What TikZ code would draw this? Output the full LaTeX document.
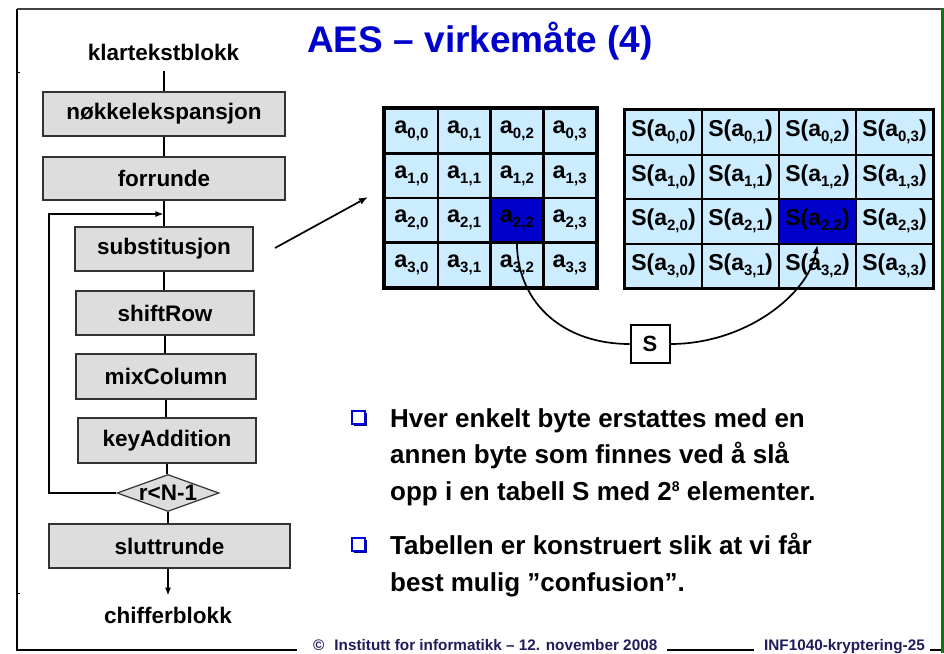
\documentclass[tikz,border=0pt]{standalone}
\usepackage{fontspec}
\setmainfont{Liberation Sans}
\usetikzlibrary{arrows.meta,shapes.geometric,shadows}
\definecolor{cellbg}{HTML}{CCECFF}
\definecolor{hl}{HTML}{0000CC}
\definecolor{titleblue}{HTML}{0000CC}
\definecolor{boxgray}{HTML}{DDDDDD}
\definecolor{boxline}{HTML}{333333}
\definecolor{frgreen}{HTML}{0A7A0A}
\definecolor{footblue}{HTML}{1E1E5A}
\definecolor{bulletblue}{HTML}{0000E0}
\definecolor{bulletshadow}{HTML}{000080}
\newcommand{\fsz}[1]{\fontsize{#1}{#1}\selectfont}
\newcommand{\subi}[1]{\raisebox{-5pt}{\fsz{15}#1}}
\begin{document}
\begin{tikzpicture}[x=1pt,y=-1pt,font=\bfseries,
  flowbox/.style={draw=boxline,line width=1.2pt,fill=boxgray,inner sep=0pt,minimum height=44pt,font=\bfseries\fsz{22.5}},
  flowtxt/.style={inner xsep=0pt,inner ysep=11pt,font=\bfseries\fsz{22.5}},
  conn/.style={line width=1.2pt,draw=black},
  tip/.style={-{Latex[length=8pt,width=6pt]}},
  acell/.style={draw=black,line width=2.5pt,fill=cellbg,minimum width=52.75pt,minimum height=44.5pt,inner sep=0pt,font=\bfseries\fsz{23.5}},
  scell/.style={draw=black,line width=2pt,fill=cellbg,minimum width=77pt,minimum height=44.5pt,inner sep=0pt,font=\bfseries\fsz{23}},
  bul/.style={draw=bulletblue,line width=2pt,fill=white,minimum size=13pt,inner sep=0pt,
    drop shadow={shadow xshift=2pt,shadow yshift=-2pt,fill=bulletshadow,opacity=1}},
  btxt/.style={anchor=base west,inner sep=0pt,font=\bfseries\fsz{26}},
  foot/.style={inner sep=0pt,text=footblue,font=\bfseries\fsz{15.3}}]
\useasboundingbox (0,0) rectangle (944,653);
\fill[white] (0,0) rectangle (944,653);
% frame
\draw[line width=1.6pt,draw=black!75] (17,9) -- (941,9);
\draw[line width=1.4pt] (17,9) -- (17,650) -- (297,650);
\draw[line width=1pt] (17,72) -- (20,72);
\draw[line width=1pt] (17,593) -- (20,593);
\draw[line width=3pt,draw=frgreen] (942.5,8) -- (942.5,653);
% title
\node[anchor=base,inner sep=0pt,text=titleblue,font=\bfseries\fsz{37}] (title) at (480,52) {AES – virkemåte (4)};
% flowchart
\node[flowtxt] (klar) at (163.5,52) {klartekstblokk};
\node[flowbox,minimum width=242pt] (nok) at (164,114) {nøkkelekspansjon};
\node[flowbox,minimum width=242pt,minimum height=43pt] (forr) at (164,178.5) {forrunde};
\node[flowbox,minimum width=178pt] (sub) at (164,249) {substitusjon};
\node[flowbox,minimum width=178pt] (shift) at (165,313) {shiftRow};
\node[flowbox,minimum width=180pt,minimum height=45pt] (mix) at (166,376.5) {mixColumn};
\node[flowbox,minimum width=178pt,minimum height=45pt] (key) at (167,440.5) {keyAddition};
\node[diamond,draw=boxline,line width=1.2pt,fill=boxgray,minimum width=102pt,minimum height=37pt,inner sep=0pt,
  label={[font=\bfseries\fsz{22.5},inner sep=0pt]center:r<N-1}] (dia) at (168,493) {};
\node[flowbox,minimum width=241pt] (slut) at (169.5,546) {sluttrunde};
\node[flowtxt] (chif) at (168,615) {chifferblokk};
\draw[conn] (nok.north |- klar.south) -- (nok.north);
\draw[conn] (nok.south) -- (nok.south |- forr.north);
\draw[conn] (forr.south) -- (forr.south |- sub.north);
\draw[conn] (sub.south) -- (sub.south |- shift.north);
\draw[conn] (shift.south) -- (shift.south |- mix.north);
\draw[conn] (mix.south) -- (mix.south |- key.north);
\draw[conn] (key.south) -- (key.south |- dia.north);
\draw[conn] (dia.south) -- (dia.south |- slut.north);
\draw[conn,tip] (slut.south -| chif) -- (chif.north);
\coordinate (loopL) at (49,214);
\coordinate (loopin) at (163.4,214);
\draw[conn,tip] (dia.west) -| (loopL) -- (loopin);
% arrow to matrix
\coordinate (arrS) at (275,248);
\coordinate (arrE) at (368,197);
\draw[line width=1.7pt,-{Latex[length=9pt,width=7pt]}] (arrS) -- (arrE);
% left matrix
\foreach \r in {0,...,3}{
  \foreach \c in {0,...,3}{
    \def\cf{cellbg}\ifnum\r\c=22 \def\cf{hl}\fi
    \node[acell,fill=\cf] (a\r\c) at ({385+52.75*\c+26.375},{109+44.5*\r+22.25}) {a\subi{\r,\c}};
  }}
\draw[line width=3.5pt] (a00.north west) rectangle (a33.south east);
% right matrix
\foreach \r in {0,...,3}{
  \foreach \c in {0,...,3}{
    \def\cf{cellbg}\ifnum\r\c=22 \def\cf{hl}\fi
    \node[scell,fill=\cf] (s\r\c) at ({625+77*\c+38.5},{110+44.5*\r+22.25}) {S(a\subi{\r,\c})};
  }}
\draw[line width=2.5pt] (s00.north west) rectangle (s33.south east);
% S box and curves
\node[draw=black,line width=2pt,fill=white,minimum width=39pt,minimum height=38pt,inner sep=0pt,font=\bfseries\fsz{22}] (Sb) at (650,344) {S};
\draw[line width=1.7pt] (a22.south) .. controls (518,305) and (565,344) .. (Sb.west);
\draw[line width=1.7pt,-{Latex[length=9pt,width=6pt]}] (Sb.east) .. controls (745,344) and (808,295) .. (s22.south);
% bullets
\node[bul] (q1) at (358.5,417.5) {};
\node[btxt] (t1a) at (390,427) {Hver enkelt byte erstattes med en};
\node[btxt] (t1b) at (390,463) {annen byte som finnes ved å slå};
\node[btxt] (t1c) at (390,500) {opp i en tabell S med 2\raisebox{9pt}{\fsz{14}8} elementer.};
\node[bul] (q2) at (358.5,544.5) {};
\node[btxt] (t2a) at (390,554) {Tabellen er konstruert slik at vi får};
\node[btxt] (t2b) at (390,591) {best mulig ”confusion”.};
% footer
\node[foot,anchor=base west] (ftl) at (313,650.5) {©\hspace{10pt}Institutt for informatikk – 12. november 2008};
\node[foot,anchor=base east] (ftr) at (925,650.5) {INF1040-kryptering-25};
\draw[line width=1.2pt] ([xshift=10pt]ftl.base east |- 0,650) -- ([xshift=-10pt]ftr.base west |- 0,650);
\draw[line width=1.2pt] ([xshift=5pt]ftr.base east |- 0,650) -- (941,650);
\end{tikzpicture}
\end{document}
